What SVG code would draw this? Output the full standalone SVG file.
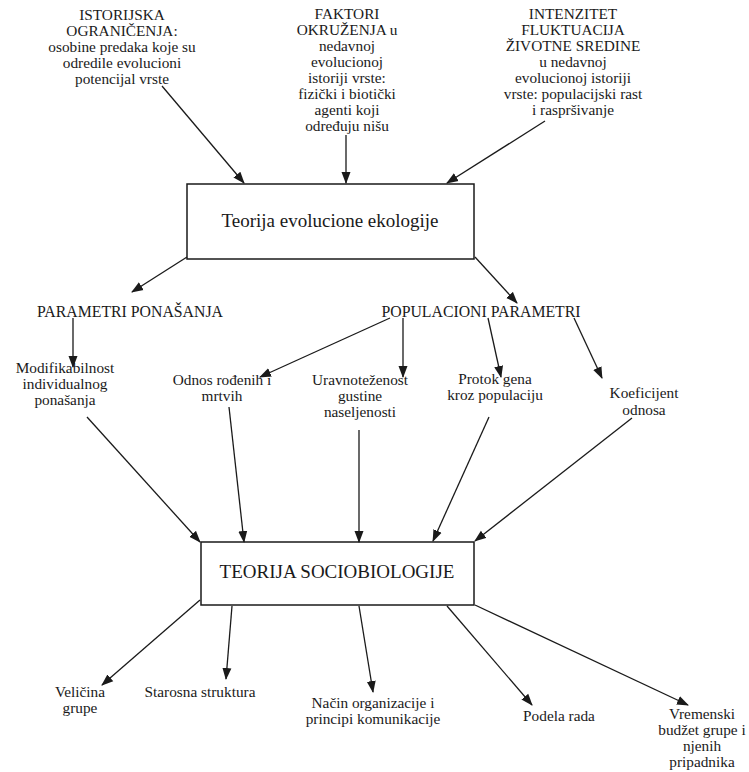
<svg xmlns="http://www.w3.org/2000/svg" width="749" height="772" viewBox="0 0 749 772">
<style>
text{font-family:"Liberation Serif","Times New Roman",serif;fill:#1a1a1a;text-anchor:middle}
.s{font-size:15.3px}
.h{font-size:15.8px}
.b{font-size:19px}
.box{fill:#fff;stroke:#1a1a1a;stroke-width:1.5}
.c line{stroke:#1a1a1a;stroke-width:1.3;marker-end:url(#ah)}
</style>
<defs>
<marker id="ah" markerUnits="userSpaceOnUse" markerWidth="12" markerHeight="10" refX="11" refY="4.5" orient="auto" viewBox="0 0 12 9">
<path d="M0,0 L12,4.5 L0,9 z" fill="#1a1a1a"/>
</marker>
</defs>
<rect width="749" height="772" fill="#fff"/>

<g id="n-istorijska">
<text class="s" x="122"><tspan x="122" y="20">ISTORIJSKA</tspan><tspan x="122" y="36">OGRANIČENJA:</tspan><tspan x="122" y="52">osobine predaka koje su</tspan><tspan x="122" y="68">odredile evolucioni</tspan><tspan x="122" y="84">potencijal vrste</tspan></text>
</g>
<g id="n-faktori">
<text class="s" x="347"><tspan x="347" y="19">FAKTORI</tspan><tspan x="347" y="35">OKRUŽENJA u</tspan><tspan x="347" y="51">nedavnoj</tspan><tspan x="347" y="67">evolucionoj</tspan><tspan x="347" y="83">istoriji vrste:</tspan><tspan x="347" y="99">fizički i biotički</tspan><tspan x="347" y="115">agenti koji</tspan><tspan x="347" y="131">određuju nišu</tspan></text>
</g>
<g id="n-intenzitet">
<text class="s" x="573"><tspan x="573" y="19">INTENZITET</tspan><tspan x="573" y="35">FLUKTUACIJA</tspan><tspan x="573" y="51">ŽIVOTNE SREDINE</tspan><tspan x="573" y="67">u nedavnoj</tspan><tspan x="573" y="83">evolucionoj istoriji</tspan><tspan x="573" y="99">vrste: populacijski rast</tspan><tspan x="573" y="115">i raspršivanje</tspan></text>
</g>
<g id="n-evoluciona">
<rect class="box" x="187" y="184" width="287" height="75"/>
<text class="b" x="330" y="227">Teorija evolucione ekologije</text>
</g>
<g id="n-param-ponasanja">
<text class="h" x="130" y="317">PARAMETRI PONAŠANJA</text>
</g>
<g id="n-pop-param">
<text class="h" x="481" y="317">POPULACIONI PARAMETRI</text>
</g>
<g id="n-modifikabilnost">
<text class="s" x="65"><tspan x="65" y="373">Modifikabilnost</tspan><tspan x="65" y="389">individualnog</tspan><tspan x="65" y="405">ponašanja</tspan></text>
</g>
<g id="n-odnos">
<text class="s" x="222"><tspan x="222" y="385">Odnos rođenih i</tspan><tspan x="222" y="401">mrtvih</tspan></text>
</g>
<g id="n-uravnotezenost">
<text class="s" x="360"><tspan x="360" y="385">Uravnoteženost</tspan><tspan x="360" y="401">gustine</tspan><tspan x="360" y="417">naseljenosti</tspan></text>
</g>
<g id="n-protok">
<text class="s" x="495"><tspan x="495" y="384">Protok gena</tspan><tspan x="495" y="400">kroz populaciju</tspan></text>
</g>
<g id="n-koeficijent">
<text class="s" x="644"><tspan x="644" y="398">Koeficijent</tspan><tspan x="644" y="415">odnosa</tspan></text>
</g>
<g id="n-sociobiologija">
<rect class="box" x="201" y="542" width="273" height="63"/>
<text class="b" x="337" y="578">TEORIJA SOCIOBIOLOGIJE</text>
</g>
<g id="n-velicina">
<text class="s" x="80"><tspan x="80" y="697">Veličina</tspan><tspan x="80" y="713">grupe</tspan></text>
</g>
<g id="n-starosna">
<text class="s" x="200" y="697">Starosna struktura</text>
</g>
<g id="n-nacin">
<text class="s" x="373"><tspan x="373" y="708">Način organizacije i</tspan><tspan x="373" y="724">principi komunikacije</tspan></text>
</g>
<g id="n-podela">
<text class="s" x="559" y="721">Podela rada</text>
</g>
<g id="n-vremenski">
<text class="s" x="702"><tspan x="702" y="719">Vremenski</tspan><tspan x="702" y="735">budžet grupe i</tspan><tspan x="702" y="751">njenih</tspan><tspan x="702" y="767">pripadnika</tspan></text>
</g>

<g id="connectors" class="c">
<line x1="162" y1="86" x2="244" y2="183"/>
<line x1="346" y1="135" x2="346" y2="183"/>
<line x1="545" y1="121" x2="447" y2="183"/>
<line x1="187" y1="257" x2="132" y2="292"/>
<line x1="475" y1="257" x2="517" y2="303"/>
<line x1="73" y1="318" x2="73" y2="367"/>
<line x1="390" y1="318" x2="260" y2="377"/>
<line x1="403" y1="318" x2="403" y2="377"/>
<line x1="488" y1="318" x2="501" y2="377"/>
<line x1="574" y1="318" x2="602" y2="378"/>
<line x1="87" y1="417" x2="200" y2="542"/>
<line x1="229" y1="407" x2="244" y2="542"/>
<line x1="359" y1="430" x2="359" y2="542"/>
<line x1="489" y1="417" x2="433" y2="541"/>
<line x1="632" y1="418" x2="475" y2="541"/>
<line x1="200" y1="600" x2="102" y2="685"/>
<line x1="232" y1="606" x2="226" y2="679"/>
<line x1="359" y1="606" x2="373" y2="692"/>
<line x1="447" y1="606" x2="532" y2="705"/>
<line x1="475" y1="605" x2="688" y2="705"/>
</g>
</svg>
